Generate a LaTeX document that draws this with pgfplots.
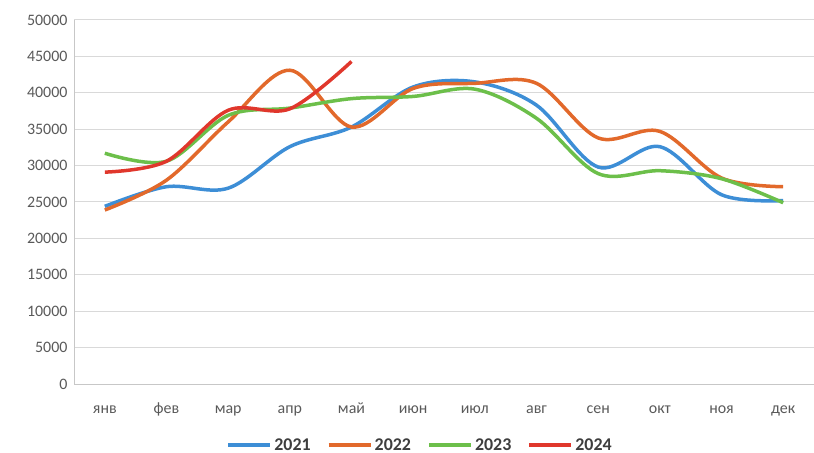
\documentclass[border=0pt]{standalone}
\usepackage{fontspec}
\setmainfont{Carlito}
\usepackage{pgfplots}
\pgfplotsset{compat=1.18}

\definecolor{c2021}{HTML}{3D8ED6}
\definecolor{c2022}{HTML}{E2692B}
\definecolor{c2023}{HTML}{6CBF4A}
\definecolor{c2024}{HTML}{E0372C}
\definecolor{gridc}{HTML}{D9D9D9}
\definecolor{labc}{HTML}{595959}

\begin{document}
\begin{tikzpicture}
\begin{axis}[
    scale only axis,
    width=740bp, height=364bp,
    xmin=-0.5, xmax=11.5,
    ymin=0, ymax=50000,
    xtick={0,...,11},
    xticklabels={янв,фев,мар,апр,май,июн,июл,авг,сен,окт,ноя,дек},
    ytick={0,5000,...,50000},
    scaled y ticks=false,
    axis x line=bottom, axis y line=left,
    axis line style={-, draw=gridc!80!gray, line width=1bp},
    ymajorgrids=true,
    grid style={gridc, line width=1bp},
    major tick length=0pt,
    yticklabel={\pgfmathprintnumber[fixed, precision=0, 1000 sep={}, assume math mode=true]{\tick}},
    tick label style={font=\fontsize{16}{18}\selectfont, text=labc},
    yticklabel style={xshift=-3bp},
    xticklabel style={anchor=base, yshift=-29bp},
    legend columns=4,
    legend style={draw=none, fill=none, at={(rel axis cs:0.4676,0)}, anchor=center,
        yshift=-61bp, font=\fontsize{18}{20}\selectfont\bfseries, text=labc!70!black,
        /tikz/every even column/.append style={column sep=14bp}},
    legend image code/.code={\draw[#1, line width=4bp] (0bp,0bp) -- (42bp,0bp);},
    every axis plot/.append style={line width=3.5bp, smooth, tension=0.55},
]
\addplot[c2021] coordinates {(0,24400) (1,27100) (2,26900) (3,32600) (4,35300) (5,40800) (6,41500) (7,38300) (8,29800) (9,32600) (10,26000) (11,25200)};
\addplot[c2022] coordinates {(0,23900) (1,28000) (2,36000) (3,43100) (4,35300) (5,40600) (6,41300) (7,41300) (8,33800) (9,34700) (10,28300) (11,27100)};
\addplot[c2023] coordinates {(0,31700) (1,30600) (2,36900) (3,37900) (4,39200) (5,39500) (6,40500) (7,36500) (8,28900) (9,29300) (10,28200) (11,24900)};
\addplot[c2024] coordinates {(0,29100) (1,30600) (2,37600) (3,37800) (4,44300)};
\legend{2021,2022,2023,2024}
\end{axis}
\pgfresetboundingbox
\path[use as bounding box] (-74bp,-69bp) rectangle (740bp,384bp);
\end{tikzpicture}
\end{document}
